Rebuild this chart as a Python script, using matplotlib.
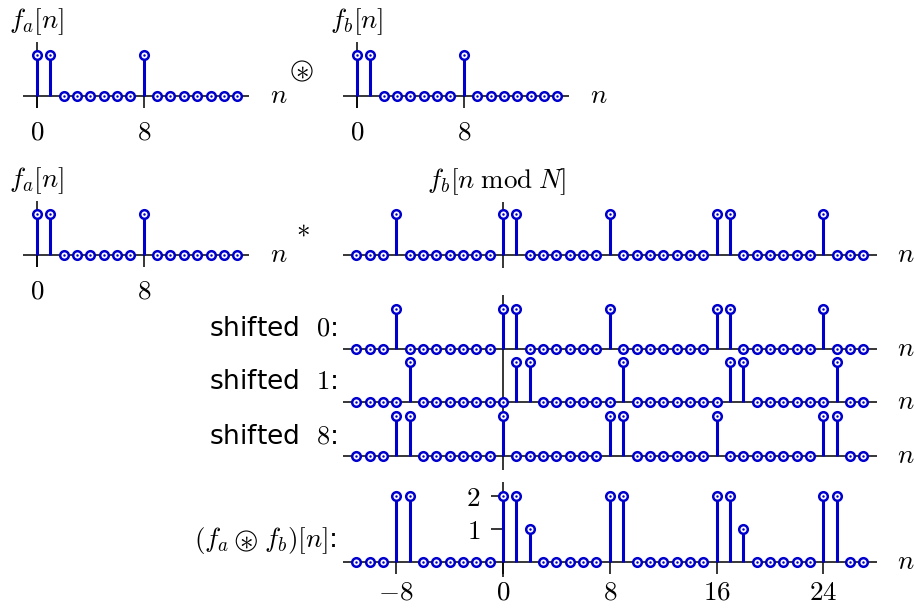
import numpy as np
import matplotlib
matplotlib.use('Agg')
import matplotlib.pyplot as plt
from matplotlib.patches import Circle
from matplotlib.transforms import IdentityTransform

plt.rcParams['mathtext.fontset'] = 'cm'
plt.rcParams['font.family'] = ['DejaVu Sans']

# ---------------- data ----------------
n_top = list(range(0, 16))
fa = [1, 1, 0, 0, 0, 0, 0, 0, 1, 0, 0, 0, 0, 0, 0, 0]
fb = [1, 1, 0, 0, 0, 0, 0, 0, 1, 0, 0, 0, 0, 0, 0, 0]
top_ticks = [0, 8]
top_ticklabels = ['$0$', '$8$']

n_long = list(range(-11, 28))
fb_periodic = [0, 0, 0, 1, 0, 0, 0, 0, 0, 0, 0, 1, 1, 0, 0, 0, 0, 0, 0, 1,
               0, 0, 0, 0, 0, 0, 0, 1, 1, 0, 0, 0, 0, 0, 0, 1, 0, 0, 0]
shifted_0 = [0, 0, 0, 1, 0, 0, 0, 0, 0, 0, 0, 1, 1, 0, 0, 0, 0, 0, 0, 1,
             0, 0, 0, 0, 0, 0, 0, 1, 1, 0, 0, 0, 0, 0, 0, 1, 0, 0, 0]
shifted_1 = [0, 0, 0, 0, 1, 0, 0, 0, 0, 0, 0, 0, 1, 1, 0, 0, 0, 0, 0, 0,
             1, 0, 0, 0, 0, 0, 0, 0, 1, 1, 0, 0, 0, 0, 0, 0, 1, 0, 0]
shifted_8 = [0, 0, 0, 1, 1, 0, 0, 0, 0, 0, 0, 1, 0, 0, 0, 0, 0, 0, 0, 1,
             1, 0, 0, 0, 0, 0, 0, 1, 0, 0, 0, 0, 0, 0, 0, 1, 1, 0, 0]
conv = [0, 0, 0, 2, 2, 0, 0, 0, 0, 0, 0, 2, 2, 1, 0, 0, 0, 0, 0, 2,
        2, 0, 0, 0, 0, 0, 0, 2, 2, 1, 0, 0, 0, 0, 0, 2, 2, 0, 0]
bottom_xticks = [-8, 0, 8, 16, 24]
bottom_xticklabels = ['$-8$', '$0$', '$8$', '$16$', '$24$']
bottom_yticks = [1, 2]
bottom_yticklabels = ['$1$', '$2$']
shift_labels = ['shifted  $0$:', 'shifted  $1$:', 'shifted  $8$:']

# ---------------- layout ----------------
W, H = 915, 608
fig = plt.figure(figsize=(W / 100, H / 100), dpi=100)
BLUE = '#0000cc'
U = 13.35      # pixels per sample
FS = 19.5      # math font size
PT = 0.72      # points per pixel


def add_panel(x0, yb, v, xlim, ylim):
    left = x0 + xlim[0] * U
    right = x0 + xlim[1] * U
    bottom = yb - ylim[0] * v
    top = yb - ylim[1] * v
    ax = fig.add_axes([left / W, 1 - bottom / H, (right - left) / W, (bottom - top) / H])
    ax.set_xlim(xlim)
    ax.set_ylim(ylim)
    ax.patch.set_visible(False)
    for s in ['top', 'right']:
        ax.spines[s].set_visible(False)
    ax.spines['bottom'].set_position(('data', 0))
    ax.spines['left'].set_position(('data', 0))
    for s in ['bottom', 'left']:
        ax.spines[s].set_linewidth(1.1)
        ax.spines[s].set_zorder(1)
        ax.spines[s].set_capstyle('butt')
    ax.set_xticks([])
    ax.set_yticks([])
    return ax


def stems(ax, n, vals):
    n = np.asarray(n)
    vals = np.asarray(vals)
    nz = vals != 0
    ax.vlines(n[nz], 0, vals[nz], colors=BLUE, lw=2.2, zorder=2, clip_on=False)
    ax.plot(n, vals, 'o', ms=6.2, mfc='white', mec=BLUE, mew=1.8, zorder=3,
            clip_on=False, ls='none')
    ax.plot(n, vals, '.', ms=1.6, color=BLUE, zorder=4, clip_on=False, ls='none')


def n_label(ax, dx_px):
    ax.annotate('$n$', xy=(1, 0), xycoords=('axes fraction', 'data'),
                xytext=(dx_px * PT, 0), textcoords='offset points',
                ha='center', va='center', fontsize=FS)


def title(ax, txt, dy_px, dx_px=0):
    ax.annotate(txt, xy=(0, 0), xycoords='data', xytext=(dx_px * PT, dy_px * PT),
                textcoords='offset points', ha='center', va='center', fontsize=FS)


def top_ticks_setup(ax):
    ax.set_xticks(top_ticks, top_ticklabels)
    ax.tick_params(axis='x', direction='out', length=12 * PT, width=1.1,
                   pad=11 * PT, labelsize=FS)


def circled_ast(x_px, y_px, size, radius=10):
    # circled-asterisk operator: a drawn ring with an asterisk text inside
    fig.add_artist(Circle((x_px, H - y_px), radius, transform=IdentityTransform(),
                          fill=False, edgecolor='black', lw=0.8))
    fig.text(x_px / W, 1 - (y_px + 0.5) / H, r'$\ast$', ha='center', va='center',
             fontsize=size)


top_xlim = (-1.05, 15.9)
top_ylim = (-0.29, 1.32)

# top row
ax1 = add_panel(37, 96, 41, top_xlim, top_ylim)
stems(ax1, n_top, fa)
top_ticks_setup(ax1)
n_label(ax1, 30)
title(ax1, '$f_a[n]$', 74)

ax2 = add_panel(357, 96, 41, top_xlim, top_ylim)
stems(ax2, n_top, fb)
top_ticks_setup(ax2)
n_label(ax2, 30)
title(ax2, '$f_b[n]$', 74)

circled_ast(302, 71, FS)

# second row
ax3 = add_panel(37, 255, 41, top_xlim, top_ylim)
stems(ax3, n_top, fa)
top_ticks_setup(ax3)
n_label(ax3, 30)
title(ax3, '$f_a[n]$', 74)

fig.text(303 / W, 1 - 229 / H, r'$\ast$', ha='center', va='center', fontsize=FS)

long_xlim = (-12, 28.05)
ax4 = add_panel(503, 255, 41, long_xlim, (-0.32, 1.29))
stems(ax4, n_long, fb_periodic)
n_label(ax4, 28)
title(ax4, r'$f_b[n\;\mathrm{mod}\;N]$', 73, -6)

# shifted rows
rows = [(349, (-0.6625, 1.35)), (402, (-0.6625, 0.6625)), (456, (-0.35, 0.675))]
for (yb, yl), vals, lab in zip(rows, [shifted_0, shifted_1, shifted_8], shift_labels):
    ax = add_panel(503, yb, 40, long_xlim, yl)
    stems(ax, n_long, vals)
    n_label(ax, 28)
    fig.text(337 / W, 1 - (yb - 20) / H, lab, ha='right', va='center', fontsize=19)

# result
axb = add_panel(503, 562, 33, long_xlim, (-0.45, 2.42))
stems(axb, n_long, conv)
axb.set_xticks(bottom_xticks, bottom_xticklabels)
axb.set_yticks(bottom_yticks, bottom_yticklabels)
axb.tick_params(axis='both', direction='out', length=12 * PT, width=1.1,
                labelsize=FS)
axb.tick_params(axis='x', pad=6 * PT)
axb.tick_params(axis='y', pad=11 * PT)
n_label(axb, 28)

# bottom label: (f_a ⊛ f_b)[n]:  composed from pieces
ylab = 1 - 541 / H
t_right = fig.text(337 / W, ylab, r'$f_b)[n]$:', ha='right', va='center', fontsize=FS)
fig.canvas.draw()
r = fig.canvas.get_renderer()
bb = t_right.get_window_extent(r)
cx = bb.x0 - 18            # centre of circled asterisk, pixels
circled_ast(cx, 541, FS)
fig.text((cx - 17) / W, ylab, r'$(f_a$', ha='right', va='center', fontsize=FS)

fig.savefig('out.png', dpi=100)
